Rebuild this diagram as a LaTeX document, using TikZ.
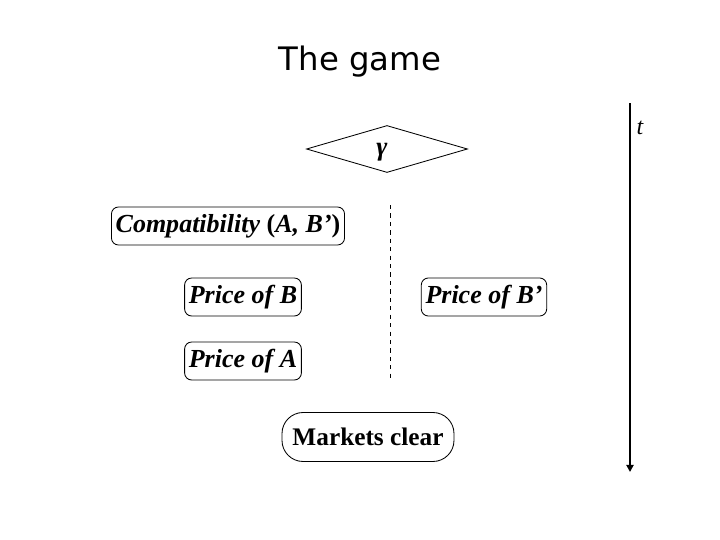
\documentclass[tikz,border=0pt]{standalone}
\usepackage{fontspec}
\setmainfont{Liberation Serif}
\newfontfamily\titlefont{DejaVu Sans}
\usetikzlibrary{shapes.geometric,arrows.meta}

\begin{document}
\begin{tikzpicture}[x=0.25mm, y=-0.25mm,
  stage/.style={draw=black, rounded corners=5pt, line width=0.6pt, inner xsep=3pt, minimum height=9.5mm, font=\fontsize{18.5}{20}\selectfont\bfseries\itshape},
  timeline/.style={-{Triangle[width=5pt,length=5pt]}, line width=1.4pt, draw=black},
  node font=\rmfamily]

  \useasboundingbox (0,0) rectangle (720,540);

  \node[font=\titlefont\fontsize{23}{26}\selectfont] (title) at (360,62) {The game};

  \node[diamond, draw=black, line width=0.6pt, aspect=3.4, inner sep=0, minimum width=40.25mm, minimum height=11.75mm] (nature) at (387,149) {};
  \node[font=\fontsize{19}{20}\selectfont\bfseries\itshape] (gamma) at (382,152) {γ};

  \node[stage] (compat)  at (228,226) {Compatibility {\upshape(}A, B’{\upshape)}};
  \node[stage] (priceB)  at (243,297) {Price of B};
  \node[stage] (priceBp) at (484,297) {Price of B’};
  \node[stage] (priceA)  at (243,361) {Price of A};
  \node[draw=black, line width=0.6pt, rounded corners=15pt, minimum width=43mm, minimum height=12.25mm, font=\fontsize{18}{20}\selectfont\bfseries] (clear) at (368,437) {Markets clear};

  \coordinate (splitTop) at (390,205);
  \coordinate (splitBot) at (390,380);
  \draw[dashed, line width=0.6pt] (splitTop) -- (splitBot);

  \coordinate (timeTop) at (630,103);
  \coordinate (timeBot) at (630,472);
  \draw[timeline] (timeTop) -- (timeBot);
  \node[font=\fontsize{17}{18}\selectfont\itshape] (tlabel) at (640,128) {t};
\end{tikzpicture}
\end{document}
